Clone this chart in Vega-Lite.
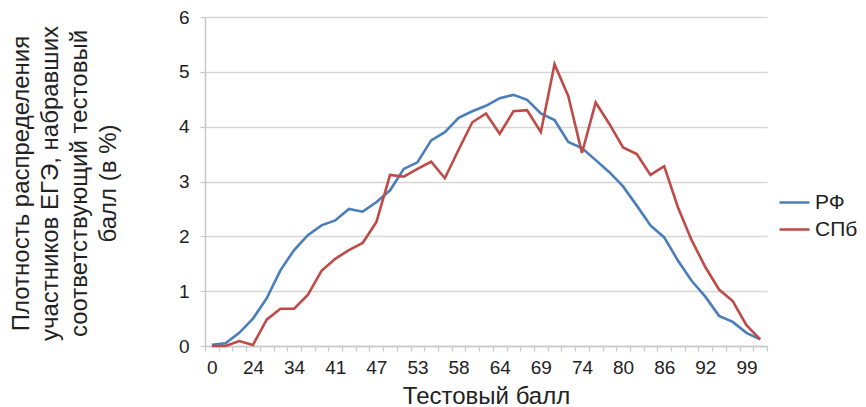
{
  "$schema": "https://vega.github.io/schema/vega-lite/v6.json",
  "autosize": "none",
  "width": 562,
  "height": 329,
  "padding": {"left": 205, "top": 17, "right": 99, "bottom": 61},
  "config": {
    "font": "Liberation Sans",
    "view": {"stroke": null},
    "axis": {"labelColor": "#222222", "titleColor": "#222222", "titleFontWeight": "normal", "domainColor": "#c8c8c8", "tickColor": "#c8c8c8", "domainWidth": 1.5, "tickWidth": 1.2}
  },
  "data": {"values": [
    {"score": 0, "region": "РФ", "value": 0.02}, {"score": 0, "region": "СПб", "value": 0.0},
    {"score": 8, "region": "РФ", "value": 0.05}, {"score": 8, "region": "СПб", "value": 0.0},
    {"score": 16, "region": "РФ", "value": 0.24}, {"score": 16, "region": "СПб", "value": 0.09},
    {"score": 24, "region": "РФ", "value": 0.5}, {"score": 24, "region": "СПб", "value": 0.02},
    {"score": 27, "region": "РФ", "value": 0.87}, {"score": 27, "region": "СПб", "value": 0.48},
    {"score": 31, "region": "РФ", "value": 1.38}, {"score": 31, "region": "СПб", "value": 0.68},
    {"score": 34, "region": "РФ", "value": 1.75}, {"score": 34, "region": "СПб", "value": 0.68},
    {"score": 36, "region": "РФ", "value": 2.02}, {"score": 36, "region": "СПб", "value": 0.93},
    {"score": 39, "region": "РФ", "value": 2.2}, {"score": 39, "region": "СПб", "value": 1.37},
    {"score": 41, "region": "РФ", "value": 2.29}, {"score": 41, "region": "СПб", "value": 1.59},
    {"score": 43, "region": "РФ", "value": 2.5}, {"score": 43, "region": "СПб", "value": 1.75},
    {"score": 45, "region": "РФ", "value": 2.45}, {"score": 45, "region": "СПб", "value": 1.88},
    {"score": 47, "region": "РФ", "value": 2.62}, {"score": 47, "region": "СПб", "value": 2.26},
    {"score": 49, "region": "РФ", "value": 2.84}, {"score": 49, "region": "СПб", "value": 3.12},
    {"score": 51, "region": "РФ", "value": 3.23}, {"score": 51, "region": "СПб", "value": 3.09},
    {"score": 53, "region": "РФ", "value": 3.35}, {"score": 53, "region": "СПб", "value": 3.23},
    {"score": 55, "region": "РФ", "value": 3.75}, {"score": 55, "region": "СПб", "value": 3.36},
    {"score": 56, "region": "РФ", "value": 3.9}, {"score": 56, "region": "СПб", "value": 3.06},
    {"score": 58, "region": "РФ", "value": 4.16}, {"score": 58, "region": "СПб", "value": 3.58},
    {"score": 60, "region": "РФ", "value": 4.28}, {"score": 60, "region": "СПб", "value": 4.08},
    {"score": 62, "region": "РФ", "value": 4.38}, {"score": 62, "region": "СПб", "value": 4.24},
    {"score": 64, "region": "РФ", "value": 4.52}, {"score": 64, "region": "СПб", "value": 3.87},
    {"score": 65, "region": "РФ", "value": 4.58}, {"score": 65, "region": "СПб", "value": 4.28},
    {"score": 67, "region": "РФ", "value": 4.49}, {"score": 67, "region": "СПб", "value": 4.3},
    {"score": 69, "region": "РФ", "value": 4.24}, {"score": 69, "region": "СПб", "value": 3.9},
    {"score": 71, "region": "РФ", "value": 4.12}, {"score": 71, "region": "СПб", "value": 5.14},
    {"score": 72, "region": "РФ", "value": 3.72}, {"score": 72, "region": "СПб", "value": 4.56},
    {"score": 74, "region": "РФ", "value": 3.61}, {"score": 74, "region": "СПб", "value": 3.52},
    {"score": 76, "region": "РФ", "value": 3.39}, {"score": 76, "region": "СПб", "value": 4.44},
    {"score": 78, "region": "РФ", "value": 3.17}, {"score": 78, "region": "СПб", "value": 4.05},
    {"score": 80, "region": "РФ", "value": 2.91}, {"score": 80, "region": "СПб", "value": 3.62},
    {"score": 82, "region": "РФ", "value": 2.56}, {"score": 82, "region": "СПб", "value": 3.5},
    {"score": 84, "region": "РФ", "value": 2.2}, {"score": 84, "region": "СПб", "value": 3.12},
    {"score": 86, "region": "РФ", "value": 1.98}, {"score": 86, "region": "СПб", "value": 3.28},
    {"score": 88, "region": "РФ", "value": 1.56}, {"score": 88, "region": "СПб", "value": 2.53},
    {"score": 90, "region": "РФ", "value": 1.19}, {"score": 90, "region": "СПб", "value": 1.93},
    {"score": 92, "region": "РФ", "value": 0.9}, {"score": 92, "region": "СПб", "value": 1.44},
    {"score": 94, "region": "РФ", "value": 0.55}, {"score": 94, "region": "СПб", "value": 1.03},
    {"score": 97, "region": "РФ", "value": 0.44}, {"score": 97, "region": "СПб", "value": 0.82},
    {"score": 99, "region": "РФ", "value": 0.24}, {"score": 99, "region": "СПб", "value": 0.38},
    {"score": 100, "region": "РФ", "value": 0.12}, {"score": 100, "region": "СПб", "value": 0.12}
  ]},
  "mark": {"type": "line", "strokeWidth": 2.6},
  "encoding": {
    "x": {
      "field": "score", "type": "ordinal", "bandPosition": 0.5,
      "scale": {"type": "band", "paddingInner": 0, "paddingOuter": 0},
      "axis": {
        "title": "Тестовый балл", "titleFontSize": 24, "titlePadding": 7,
        "labelAngle": 0, "labelFontSize": 19, "labelPadding": 7, "tickSize": 5,
        "tickBand": "extent", "labelOverlap": false,
        "labelExpr": "indexof(['0','24','34','41','47','53','58','64','69','74','80','86','92','99'], datum.label) >= 0 ? datum.label : ''"
      }
    },
    "y": {
      "field": "value", "type": "quantitative",
      "scale": {"domain": [0, 6], "nice": false},
      "axis": {
        "values": [0, 1, 2, 3, 4, 5, 6], "labelFontSize": 19, "labelPadding": 11, "tickSize": 5,
        "grid": true, "gridColor": "#d6d6d6", "gridWidth": 1.5,
        "title": ["Плотность распределения", "участников ЕГЭ, набравших", "соответствующий тестовый", "балл (в %)"],
        "titleFontSize": 24, "titleLineHeight": 29, "titleAngle": -90,
        "titleX": -184, "titleY": 166, "titleAlign": "center", "titleBaseline": "middle"
      }
    },
    "color": {
      "field": "region", "type": "nominal",
      "scale": {"domain": ["РФ", "СПб"], "range": ["#4A7EBB", "#BE4B48"]},
      "legend": {
        "title": null, "orient": "none", "legendX": 573, "legendY": 169,
        "symbolType": "stroke", "symbolSize": 900, "symbolStrokeWidth": 2.5,
        "labelFontSize": 21, "labelColor": "#222222", "rowPadding": -4, "labelOffset": 4
      }
    }
  }
}
